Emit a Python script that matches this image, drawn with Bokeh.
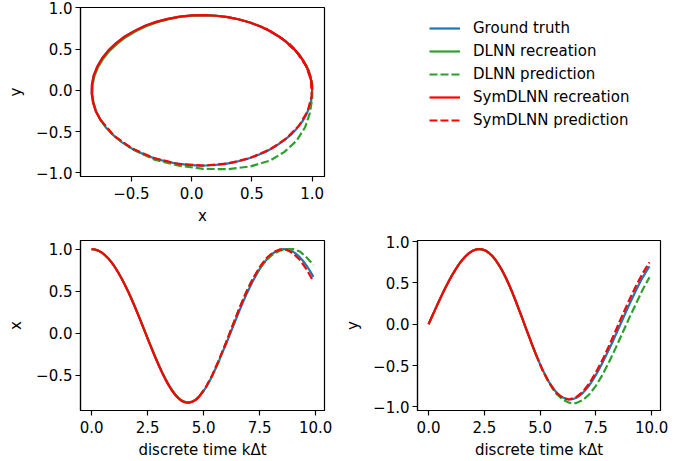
from bokeh.plotting import figure
from bokeh.layouts import column, row
from bokeh.models import Range1d, FixedTicker, Legend, LegendItem
from bokeh.embed import file_html
from bokeh.resources import INLINE

# ---------------- data ----------------
t_all = [0.0, 0.15, 0.3, 0.45, 0.6, 0.75, 0.9, 1.05, 1.2, 1.35, 1.5, 1.65, 1.8, 1.95, 2.1, 2.25,
         2.4, 2.55, 2.7, 2.85, 3.0, 3.15, 3.3, 3.45, 3.6, 3.75, 3.9, 4.05, 4.2, 4.35, 4.5, 4.65,
         4.8, 4.95, 5.1, 5.25, 5.4, 5.55, 5.7, 5.85, 6.0, 6.15, 6.3, 6.45, 6.6, 6.75, 6.9, 7.05,
         7.2, 7.35, 7.5, 7.65, 7.8, 7.95, 8.1, 8.25, 8.4, 8.55, 8.7, 8.85, 9.0, 9.15, 9.3, 9.45,
         9.6, 9.75, 9.9]
t_rec = [0.0, 0.15, 0.3, 0.45, 0.6, 0.75, 0.9, 1.05, 1.2, 1.35, 1.5, 1.65, 1.8, 1.95, 2.1, 2.25,
         2.4, 2.55, 2.7, 2.85, 3.0, 3.15, 3.3, 3.45, 3.6, 3.75, 3.9, 4.05, 4.2, 4.35, 4.5, 4.65,
         4.8]
t_pred = [4.8, 5.1, 5.4, 5.7, 6.0, 6.3, 6.6, 6.9, 7.2, 7.5, 7.8, 8.1, 8.4, 8.7, 9.0, 9.3, 9.6, 9.9]

gt_x = [1.00, 0.995, 0.982, 0.959, 0.927, 0.887, 0.838, 0.781, 0.716, 0.644, 0.566, 0.482,
        0.394, 0.299, 0.203, 0.103, 0.003, -0.098, -0.197, -0.294, -0.386, -0.474, -0.554,
        -0.626, -0.690, -0.742, -0.783, -0.812, -0.827, -0.829, -0.818, -0.795, -0.757,
        -0.709, -0.648, -0.580, -0.501, -0.414, -0.323, -0.222, -0.134, -0.031, 0.069, 0.170,
        0.268, 0.363, 0.454, 0.540, 0.619, 0.693, 0.761, 0.820, 0.871, 0.916, 0.950, 0.975,
        0.992, 0.999, 0.998, 0.987, 0.967, 0.939, 0.901, 0.855, 0.801, 0.739, 0.669]
gt_y = [0.00, 0.091, 0.18, 0.27, 0.356, 0.439, 0.518, 0.592, 0.659, 0.721, 0.775, 0.821,
        0.858, 0.886, 0.903, 0.911, 0.907, 0.893, 0.866, 0.829, 0.781, 0.720, 0.652, 0.572,
        0.484, 0.389, 0.288, 0.181, 0.073, -0.037, -0.145, -0.253, -0.356, -0.454, -0.546,
        -0.626, -0.700, -0.763, -0.815, -0.858, -0.885, -0.903, -0.911, -0.907, -0.893,
        -0.868, -0.834, -0.790, -0.741, -0.680, -0.612, -0.542, -0.464, -0.382, -0.297,
        -0.212, -0.121, -0.031, 0.061, 0.152, 0.241, 0.328, 0.412, 0.492, 0.568, 0.637, 0.701]

dlnn_rec_x = [1.00, 0.995, 0.982, 0.959, 0.927, 0.887, 0.838, 0.781, 0.718, 0.647, 0.570,
              0.487, 0.399, 0.304, 0.208, 0.108, 0.008, -0.092, -0.190, -0.286, -0.377,
              -0.464, -0.544, -0.616, -0.681, -0.734, -0.776, -0.806, -0.821, -0.824,
              -0.813, -0.791, -0.755]
dlnn_rec_y = [0.00, 0.091, 0.18, 0.27, 0.356, 0.439, 0.518, 0.592, 0.659, 0.721, 0.775,
              0.821, 0.858, 0.886, 0.903, 0.910, 0.905, 0.891, 0.863, 0.825, 0.776, 0.715,
              0.646, 0.566, 0.478, 0.383, 0.282, 0.175, 0.067, -0.043, -0.151, -0.258, -0.36]
dlnn_pred_x = [-0.755, -0.645, -0.495, -0.315, -0.115, 0.095, 0.30, 0.49, 0.65, 0.77, 0.87,
               0.94, 0.98, 1.00, 1.00, 0.97, 0.90, 0.81]
dlnn_pred_y = [-0.36, -0.55, -0.71, -0.835, -0.91, -0.95, -0.955, -0.92, -0.85, -0.745, -0.61,
               -0.45, -0.28, -0.10, 0.08, 0.25, 0.42, 0.57]

sym_rec_x = [1.00, 0.995, 0.982, 0.959, 0.927, 0.887, 0.838, 0.781, 0.716, 0.644, 0.566,
             0.482, 0.394, 0.299, 0.203, 0.103, 0.003, -0.098, -0.197, -0.294, -0.386,
             -0.474, -0.554, -0.626, -0.690, -0.742, -0.783, -0.812, -0.827, -0.829,
             -0.818, -0.795, -0.757]
sym_rec_y = [0.00, 0.091, 0.18, 0.27, 0.356, 0.439, 0.518, 0.592, 0.659, 0.721, 0.775,
             0.821, 0.858, 0.886, 0.903, 0.911, 0.907, 0.893, 0.866, 0.829, 0.781, 0.720,
             0.652, 0.572, 0.484, 0.389, 0.288, 0.181, 0.073, -0.037, -0.145, -0.253, -0.356]
sym_pred_x = [-0.757, -0.645, -0.494, -0.309, -0.115, 0.092, 0.295, 0.481, 0.646, 0.785,
              0.89, 0.962, 0.996, 0.991, 0.949, 0.87, 0.757, 0.615]
sym_pred_y = [-0.356, -0.55, -0.704, -0.822, -0.889, -0.911, -0.886, -0.821, -0.718, -0.583,
              -0.428, -0.253, -0.069, 0.117, 0.297, 0.466, 0.618, 0.75]

legend_labels = ["Ground truth", "DLNN recreation", "DLNN prediction",
                 "SymDLNN recreation", "SymDLNN prediction"]

phase_xticks = [-0.5, 0.0, 0.5, 1.0]
phase_xtick_labels = ["\u22120.5", "0.0", "0.5", "1.0"]
pm1_ticks = [-1.0, -0.5, 0.0, 0.5, 1.0]
pm1_tick_labels = ["\u22121.0", "\u22120.5", "0.0", "0.5", "1.0"]
time_ticks = [0.0, 2.5, 5.0, 7.5, 10.0]
time_tick_labels = ["0.0", "2.5", "5.0", "7.5", "10.0"]
xt_yticks = [-0.5, 0.0, 0.5, 1.0]
xt_ytick_labels = ["\u22120.5", "0.0", "0.5", "1.0"]

# ---------------- styling ----------------
BLUE = "#1f77b4"
GREEN = "#2ca02c"
RED = "#ff0000"
LW = 2.2
DASH = "8 3"
FONT = "DejaVu Sans"
FS = "15px"


def style(p, xlabel, ylabel, xticks, xlabels, yticks, ylabels, xstand, ystand):
    p.xgrid.visible = False
    p.ygrid.visible = False
    p.outline_line_color = "black"
    p.outline_line_width = 1.2
    p.background_fill_color = "white"
    p.border_fill_color = "white"
    p.xaxis.axis_label = xlabel
    p.yaxis.axis_label = ylabel
    p.xaxis.ticker = FixedTicker(ticks=xticks)
    p.yaxis.ticker = FixedTicker(ticks=yticks)
    p.xaxis.major_label_overrides = dict(zip(xticks, xlabels))
    p.yaxis.major_label_overrides = dict(zip(yticks, ylabels))
    p.xaxis.axis_label_standoff = xstand
    p.yaxis.axis_label_standoff = ystand
    p.xaxis.major_label_standoff = 5
    p.yaxis.major_label_standoff = 3
    for ax in (p.xaxis, p.yaxis):
        ax.axis_label_text_font = FONT
        ax.axis_label_text_font_size = FS
        ax.axis_label_text_font_style = "normal"
        ax.axis_label_text_color = "black"
        ax.major_label_text_font = FONT
        ax.major_label_text_font_size = FS
        ax.major_label_text_color = "black"
        ax.major_tick_in = 0
        ax.major_tick_out = 5
        ax.minor_tick_in = 0
        ax.minor_tick_out = 0
        ax.major_tick_line_color = "black"
        ax.major_tick_line_width = 1.2
        ax.axis_line_color = "black"
        ax.axis_line_width = 1.2


def make_fig(w, h, left, right, top, bottom, xr, yr):
    return figure(width=w, height=h, x_range=Range1d(*xr), y_range=Range1d(*yr),
                  min_border_left=left, min_border_right=right,
                  min_border_top=top, min_border_bottom=bottom,
                  toolbar_location=None, output_backend="svg", tools="")


def draw(p, xs_gt, ys_gt, xs_dr, ys_dr, xs_dp, ys_dp, xs_sr, ys_sr, xs_sp, ys_sp):
    p.line(xs_gt, ys_gt, line_color=BLUE, line_width=LW, line_join="round")
    p.line(xs_dr, ys_dr, line_color=GREEN, line_width=LW, line_join="round")
    p.line(xs_dp, ys_dp, line_color=GREEN, line_width=LW, line_dash=DASH, line_join="round")
    p.line(xs_sr, ys_sr, line_color=RED, line_width=LW, line_join="round")
    p.line(xs_sp, ys_sp, line_color=RED, line_width=LW, line_dash=DASH, line_join="round")


# phase portrait (top left)
p1 = make_fig(340, 228, 80, 16, 7, 52, (-0.922, 1.102), (-1.043, 1.003))
draw(p1, gt_x, gt_y, dlnn_rec_x, dlnn_rec_y, dlnn_pred_x, dlnn_pred_y,
     sym_rec_x, sym_rec_y, sym_pred_x, sym_pred_y)
style(p1, "x", "y", phase_xticks, phase_xtick_labels, pm1_ticks, pm1_tick_labels, 5, 8)

# legend panel (top right); its lines lie outside the visible range, only the legend shows
pleg = figure(width=357, height=228, x_range=Range1d(100, 101), y_range=Range1d(100, 101),
              x_axis_location=None, y_axis_location=None,
              min_border_left=0, min_border_right=0, min_border_top=7, min_border_bottom=52,
              toolbar_location=None, output_backend="svg", tools="")
pleg.xgrid.visible = False
pleg.ygrid.visible = False
pleg.outline_line_color = None
series = [(gt_x, gt_y), (dlnn_rec_x, dlnn_rec_y), (dlnn_pred_x, dlnn_pred_y),
          (sym_rec_x, sym_rec_y), (sym_pred_x, sym_pred_y)]
styles = [(BLUE, "solid"), (GREEN, "solid"), (GREEN, DASH), (RED, "solid"), (RED, DASH)]
items = []
for lab, (sx, sy), (c, d) in zip(legend_labels, series, styles):
    r = pleg.line(sx, sy, line_color=c, line_width=LW, line_dash=d)
    items.append(LegendItem(label=lab, renderers=[r]))
leg = Legend(items=items, location=(89, 46), padding=0, margin=0, spacing=3,
             glyph_width=31, glyph_height=20, label_height=20, label_standoff=13,
             label_text_font=FONT, label_text_font_size=FS, label_text_color="black",
             border_line_color=None, background_fill_alpha=0)
pleg.add_layout(leg)

# x vs time (bottom left)
p2 = make_fig(340, 233, 80, 16, 12, 51, (-0.495, 10.395), (-0.922, 1.102))
draw(p2, t_all, gt_x, t_rec, dlnn_rec_x, t_pred, dlnn_pred_x, t_rec, sym_rec_x, t_pred, sym_pred_x)
style(p2, "discrete time k\u0394t", "x", time_ticks, time_tick_labels, xt_yticks, xt_ytick_labels, 5, 8)

# y vs time (bottom right)
p3 = make_fig(357, 233, 77, 37, 12, 51, (-0.495, 10.395), (-1.044, 1.014))
draw(p3, t_all, gt_y, t_rec, dlnn_rec_y, t_pred, dlnn_pred_y, t_rec, sym_rec_y, t_pred, sym_pred_y)
style(p3, "discrete time k\u0394t", "y", time_ticks, time_tick_labels, pm1_ticks, pm1_tick_labels, 5, 8)

layout = column(row(p1, pleg), row(p2, p3))
open("out.html", "w").write(file_html(layout, INLINE))
